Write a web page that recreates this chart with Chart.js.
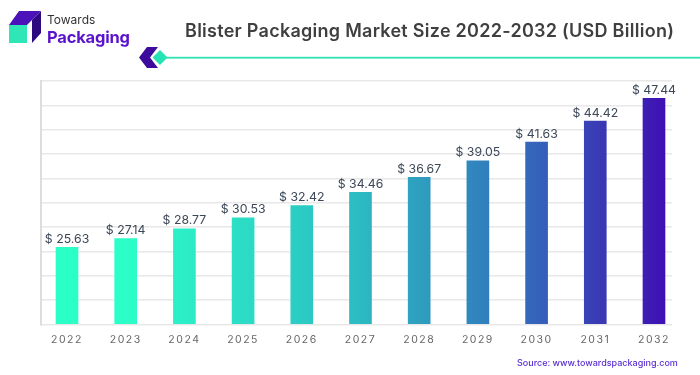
<!DOCTYPE html>
<html>
<head>
<meta charset="utf-8">
<title>Blister Packaging Market Size</title>
<script src="https://cdn.jsdelivr.net/npm/chart.js@4/dist/chart.umd.min.js"></script>
<style>
    html, body { margin: 0; padding: 0; background: #fff; overflow: hidden; }
    #wrap { position: relative; width: 700px; height: 375px; font-family: Inter, sans-serif; }
    #lineChart { position: absolute; left: 0; top: 0; }
    #deco { position: absolute; left: 0; top: 0; }
    .txt { position: absolute; white-space: nowrap; margin: 0; }
    #title { left: 185px; top: 19px; font-size: 18px; font-weight: 600; color: #3f3f3f; letter-spacing: 0.27px; line-height: 24px; }
    #brand1 { left: 47px; top: 12px; font-size: 12px; color: #333; line-height: 16px; }
    #brand2 { left: 47px; top: 26px; font-size: 16.5px; font-weight: 700; color: #5a12cc; line-height: 22px; letter-spacing: -0.2px; }
    #source { left: 517px; top: 357px; font-size: 9px; font-weight: 500; color: #5a2fd0; line-height: 12px; }
</style>
</head>
<body>
<div id="wrap">
    <canvas id="lineChart" width="700" height="375"></canvas>
    <svg id="deco" width="700" height="375">
        <!-- logo -->
        <polygon points="9,25 19,11 41,11 27,25" fill="#4a12b8"/>
        <polygon points="32,43 32,20 41,11 41,33" fill="#2e0a80"/>
        <rect x="9" y="25" width="18" height="18" fill="#2ee6b6"/>
        <!-- title rule -->
        <rect x="165" y="56.8" width="535" height="1.8" fill="#2fe3b5"/>
        <polygon points="139,57.5 147,47 158,47 150,57.5 158,68 147,68" fill="#3d0c9c"/>
        <polygon points="160,50 167.5,57.5 160,65 152.5,57.5" fill="#26e3b4"/>
    </svg>
    <p class="txt" id="brand1">Towards</p>
    <p class="txt" id="brand2">Packaging</p>
    <p class="txt" id="title">Blister Packaging Market Size 2022-2032 (USD Billion)</p>
    <p class="txt" id="source">Source: www.towardspackaging.com</p>
</div>
<script>
Chart.defaults.font.family = "Inter, sans-serif";

const years = [2022, 2023, 2024, 2025, 2026, 2027, 2028, 2029, 2030, 2031, 2032];
// gia tri in tren cot
const marketSize = ["25.63", "27.14", "28.77", "30.53", "32.42", "34.46", "36.67", "39.05", "41.63", "44.42", "47.44"];
// the source picture does not draw bars to scale, so heights are read off its gridlines (0-10)
const barHeights = [3.17, 3.53, 3.93, 4.38, 4.88, 5.43, 6.04, 6.72, 7.49, 8.35, 9.29];

const barGradient = (context) => {
    const area = context.chart.chartArea;
    if (!area) return "#2bffc8";
    const g = context.chart.ctx.createLinearGradient(area.left, 0, area.right, 0);
    g.addColorStop(0.13, "#2bffc8");
    g.addColorStop(0.50, "#2cbcc2");
    g.addColorStop(0.70, "#3181bd");
    g.addColorStop(0.79, "#3561bb");
    g.addColorStop(0.88, "#3a3cb5");
    g.addColorStop(1, "#3f0cb3");
    return g;
};

// Giãn chữ cho nhãn trục x
const tickSpacing = {
    id: "tickSpacing",
    beforeDraw(chart) {
        chart.ctx.letterSpacing = "1.5px";
    }
};

// Nhãn giá trị trên mỗi cột
const valueLabels = {
    id: "valueLabels",
    afterDatasetsDraw(chart) {
        const ctx = chart.ctx;
        ctx.save();
        ctx.letterSpacing = "0px";
        ctx.font = "12.3px Inter, sans-serif";
        ctx.fillStyle = "#3c4858";
        ctx.textAlign = "center";
        ctx.textBaseline = "alphabetic";
        chart.getDatasetMeta(0).data.forEach((bar, i) => {
            ctx.fillText("$ " + marketSize[i], bar.x, bar.y - 4.5);
        });
        ctx.restore();
    }
};

new Chart(document.getElementById("lineChart"), {
    type: "bar",
    data: {
        datasets: [{
            data: years.map((y, i) => ({ x: y, y: barHeights[i] })),
            backgroundColor: barGradient,
            barThickness: 22
        }]
    },
    options: {
        responsive: false,
        animation: false,
        layout: { padding: { left: 41, right: 28, top: 81, bottom: 28 } },
        plugins: { legend: { display: false }, tooltip: { enabled: false } },
        scales: {
            x: {
                type: "linear",
                offset: false,
                min: 2021.557,
                max: 2032.307,
                grid: { display: false },
                border: { display: false },
                afterBuildTicks: (scale) => { scale.ticks = years.map((y) => ({ value: y })); },
                ticks: {
                    autoSkip: false,
                    maxRotation: 0,
                    padding: 1,
                    color: "#666666",
                    font: { size: 10.5 },
                    callback: (v) => String(v)
                }
            },
            y: {
                min: 0,
                max: 10,
                grid: { color: "#e8e8e8", lineWidth: 1.5, drawTicks: false },
                border: { color: "#dddddd", width: 2 },
                ticks: { stepSize: 1, display: false }
            }
        }
    },
    plugins: [tickSpacing, valueLabels]
});
</script>
</body>
</html>
